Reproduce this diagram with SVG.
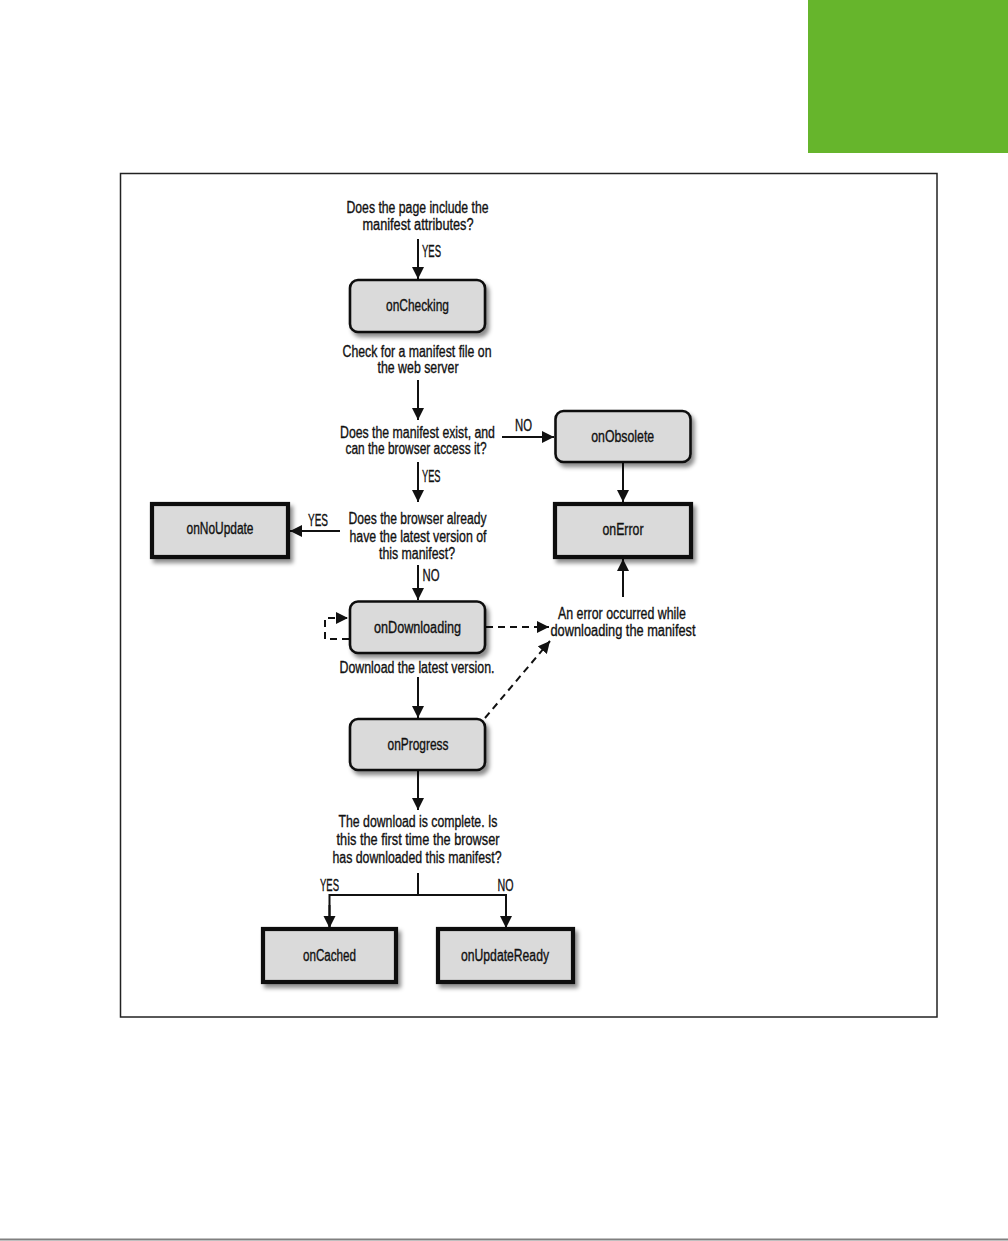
<svg xmlns="http://www.w3.org/2000/svg" width="1008" height="1241" viewBox="0 0 1008 1241">
<style>
text{font-family:"Liberation Sans Narrow","Liberation Sans",Arial,sans-serif;font-size:16px;fill:#111;stroke:#111;stroke-width:0.35}
.c{text-anchor:middle}
.rbox{fill:#dadada;stroke:#111;stroke-width:2.6}
.tbox{fill:#dadada;stroke:#111;stroke-width:4.2}
.ln{fill:none;stroke:#111;stroke-width:2}
.ds{fill:none;stroke:#111;stroke-width:2;stroke-dasharray:7,5}
</style>
<defs>
<filter id="sh" x="-10%" y="-10%" width="130%" height="140%">
<feDropShadow dx="3" dy="4" stdDeviation="2" flood-color="#000" flood-opacity="0.45"/>
</filter>
<marker id="ah" markerUnits="userSpaceOnUse" markerWidth="13" markerHeight="13" refX="12" refY="6" orient="auto">
<path d="M0,0 L12,6 L0,12 Z" fill="#111"/>
</marker>
</defs>
<rect width="1008" height="1241" fill="#fff"/>
<rect x="808" y="0" width="200" height="153" fill="#66b52c"/>
<rect x="120.5" y="173.5" width="816.5" height="843.5" fill="none" stroke="#222" stroke-width="1.5"/>
<line x1="0" y1="1239.5" x2="1008" y2="1239.5" stroke="#808080" stroke-width="2"/>

<g id="connectors">
<path class="ln" d="M418,239 V279" marker-end="url(#ah)"/>
<path class="ln" d="M418,380 V420" marker-end="url(#ah)"/>
<path class="ln" d="M502,437 H554" marker-end="url(#ah)"/>
<path class="ln" d="M623,462 V502" marker-end="url(#ah)"/>
<path class="ln" d="M418,462 V502" marker-end="url(#ah)"/>
<path class="ln" d="M340,531 H290" marker-end="url(#ah)"/>
<path class="ln" d="M418,565 V600" marker-end="url(#ah)"/>
<path class="ln" d="M623,597 V559" marker-end="url(#ah)"/>
<path class="ds" d="M486,627 H549" marker-end="url(#ah)"/>
<path class="ds" d="M349,639 H325 V618 H348" marker-end="url(#ah)"/>
<path class="ds" d="M485,718 L550,641" marker-end="url(#ah)"/>
<path class="ln" d="M418,677 V718" marker-end="url(#ah)"/>
<path class="ln" d="M418,770 V810" marker-end="url(#ah)"/>
<path class="ln" d="M418,873 V895"/>
<path class="ln" d="M329.5,928 V895 H506 V928"/>
<path class="ln" d="M329.5,905 V928" marker-end="url(#ah)"/>
<path class="ln" d="M506,905 V928" marker-end="url(#ah)"/>
</g>

<g id="labels">
<text class="c" x="417.5" y="213" textLength="142" lengthAdjust="spacingAndGlyphs">Does the page include the</text>
<text class="c" x="418" y="230" textLength="111" lengthAdjust="spacingAndGlyphs">manifest attributes?</text>
<text x="422" y="257" textLength="19" lengthAdjust="spacingAndGlyphs">YES</text>
<text class="c" x="417" y="357" textLength="149" lengthAdjust="spacingAndGlyphs">Check for a manifest file on</text>
<text class="c" x="418" y="373" textLength="81" lengthAdjust="spacingAndGlyphs">the web server</text>
<text class="c" transform="translate(417.5,438) scale(0.768,1)" x="0" y="0">Does the manifest exist, and</text>
<text class="c" x="416" y="454" textLength="141" lengthAdjust="spacingAndGlyphs">can the browser access it?</text>
<text x="515" y="431" textLength="17" lengthAdjust="spacingAndGlyphs">NO</text>
<text x="422" y="482" textLength="18.5" lengthAdjust="spacingAndGlyphs">YES</text>
<text class="c" x="417.5" y="524" textLength="138" lengthAdjust="spacingAndGlyphs">Does the browser already</text>
<text class="c" x="418" y="541.5" textLength="137" lengthAdjust="spacingAndGlyphs">have the latest version of</text>
<text class="c" x="417" y="559" textLength="76" lengthAdjust="spacingAndGlyphs">this manifest?</text>
<text x="308" y="526" textLength="20" lengthAdjust="spacingAndGlyphs">YES</text>
<text x="422.5" y="581" textLength="17" lengthAdjust="spacingAndGlyphs">NO</text>
<text class="c" x="622" y="619" textLength="128" lengthAdjust="spacingAndGlyphs">An error occurred while</text>
<text class="c" x="623" y="636" textLength="145" lengthAdjust="spacingAndGlyphs">downloading the manifest</text>
<text class="c" x="417" y="673" textLength="155" lengthAdjust="spacingAndGlyphs">Download the latest version.</text>
<text class="c" x="418" y="827" textLength="159" lengthAdjust="spacingAndGlyphs">The download is complete. Is</text>
<text class="c" x="418" y="845" textLength="163" lengthAdjust="spacingAndGlyphs">this the first time the browser</text>
<text class="c" x="417" y="862.5" textLength="169" lengthAdjust="spacingAndGlyphs">has downloaded this manifest?</text>
<text x="320" y="890.5" textLength="19" lengthAdjust="spacingAndGlyphs">YES</text>
<text x="497.5" y="890.5" textLength="16" lengthAdjust="spacingAndGlyphs">NO</text>
</g>

<g id="onChecking">
<rect class="rbox" x="350" y="280" width="135" height="52" rx="8" filter="url(#sh)"/>
<text class="c" x="417.5" y="311" textLength="63" lengthAdjust="spacingAndGlyphs">onChecking</text>
</g>
<g id="onObsolete">
<rect class="rbox" x="555.5" y="411" width="135" height="51" rx="8" filter="url(#sh)"/>
<text class="c" x="622.7" y="442" textLength="63" lengthAdjust="spacingAndGlyphs">onObsolete</text>
</g>
<g id="onNoUpdate">
<rect class="tbox" x="152" y="504" width="136" height="53" filter="url(#sh)"/>
<text class="c" x="220" y="534" textLength="67" lengthAdjust="spacingAndGlyphs">onNoUpdate</text>
</g>
<g id="onError">
<rect class="tbox" x="555" y="504" width="136" height="53" filter="url(#sh)"/>
<text class="c" x="623" y="535" textLength="41" lengthAdjust="spacingAndGlyphs">onError</text>
</g>
<g id="onDownloading">
<rect class="rbox" x="350" y="601.5" width="135" height="51.5" rx="8" filter="url(#sh)"/>
<text class="c" x="417.5" y="633" textLength="87" lengthAdjust="spacingAndGlyphs">onDownloading</text>
</g>
<g id="onProgress">
<rect class="rbox" x="350" y="719" width="135" height="51" rx="8" filter="url(#sh)"/>
<text class="c" x="418" y="749.5" textLength="61" lengthAdjust="spacingAndGlyphs">onProgress</text>
</g>
<g id="onCached">
<rect class="tbox" x="263" y="929" width="133" height="53" filter="url(#sh)"/>
<text class="c" x="329.5" y="961" textLength="53" lengthAdjust="spacingAndGlyphs">onCached</text>
</g>
<g id="onUpdateReady">
<rect class="tbox" x="438" y="929" width="135" height="53" filter="url(#sh)"/>
<text class="c" x="505" y="961" textLength="88" lengthAdjust="spacingAndGlyphs">onUpdateReady</text>
</g>
</svg>
